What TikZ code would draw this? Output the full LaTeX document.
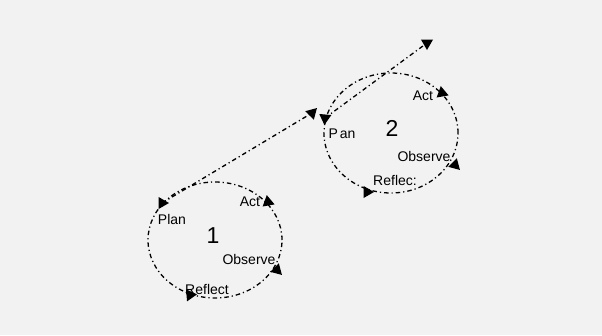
\documentclass[tikz,border=0pt]{standalone}
\usepackage{fontspec}
\setmainfont{Liberation Sans}
\usetikzlibrary{shapes.geometric}
\definecolor{bg}{RGB}{242,242,242}
\begin{document}
\begin{tikzpicture}[x=1pt,y=-1pt,
  lbl/.style={font=\fontsize{14}{16}\selectfont, inner sep=0pt},
  num/.style={font=\fontsize{23}{26}\selectfont, inner sep=0pt},
  tip/.style={regular polygon, regular polygon sides=3, fill=black, draw=none, inner sep=0pt, minimum size=14pt},
  cyc/.style={line width=1.3pt, dash pattern=on 4.5pt off 3pt on 1.2pt off 3pt},
]
\fill[bg] (0,0) rectangle (602,335);
\useasboundingbox (0,0) rectangle (602,335);

% cycle 1
\coordinate (c1) at (215,240);
\draw[cyc] (c1) ellipse [x radius=67pt, y radius=58pt];
\node[num] (n1) at (213,236) {1};
\node[lbl] (plan1) at (172,219) {Plan};
\node[lbl] (act1) at (250,202) {Act};
\node[lbl] (obs1) at (249,259) {Observe};
\node[lbl] (ref1) at (207,289) {Reflect};
\node[tip, rotate=150] (t1p) at (162,203) {};
\node[tip, rotate=10] (t1a) at (268,202) {};
\node[tip, rotate=-15] (t1o) at (277,270) {};
\node[tip, rotate=155] (t1r) at (190,295) {};

% cycle 2
\coordinate (c2) at (391,133);
\draw[cyc] (c2) ellipse [x radius=67pt, y radius=60pt];
\node[num] (n2) at (392,128) {2};
\node[lbl] (plan2) at (342,134) {P\hspace{2pt}an};
\node[lbl] (act2) at (423,96) {Act};
\node[lbl] (obs2) at (424,156) {Observe};
\node[lbl] (ref2) at (395,180) {Reflec:};
\node[tip, rotate=195] (t2l) at (312,113) {};
\node[tip, rotate=175] (t2p) at (325,118) {};
\node[tip, rotate=10] (t2a) at (442,93) {};
\node[tip, rotate=225] (t2o) at (455,165) {};
\node[tip, rotate=150] (t2r) at (367,192) {};
\node[tip, rotate=180] (top) at (427,43) {};

% connectors between cycles
\draw[cyc] (t1p.center) -- (t2l.center);
\draw[cyc] (t2p.center) -- (top.center);
\end{tikzpicture}
\end{document}
